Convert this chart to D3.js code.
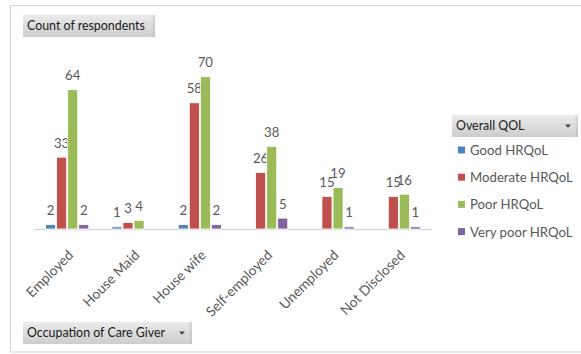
<!DOCTYPE html>
<html>
<head>
<meta charset="utf-8">
<script src="https://cdn.jsdelivr.net/npm/d3@7/dist/d3.min.js"></script>
<style>
  html, body { margin: 0; padding: 0; background: #ffffff; }
  svg { display: block; }
  text { font-family: Lato, "Open Sans", sans-serif; }
</style>
</head>
<body>
<svg id="chart" width="581" height="354"></svg>
<script>
// Respondent counts by care giver occupation and overall HRQoL level
const categories = ["Employed", "House Maid", "House wife", "Self-employed", "Unemployed", "Not Disclosed"];
const seriesNames = ["Good HRQoL", "Moderate HRQoL", "Poor HRQoL", "Very poor HRQoL"];
const goodValues     = [2, 1, 2, null, null, null];
const moderateValues = [33, 3, 58, 26, 15, 15];
const poorValues     = [64, 4, 70, 38, 19, 16];
const veryPoorValues = [2, null, 2, 5, 1, 1];
const seriesColors = ["#4f81bd", "#c0504d", "#9bbb59", "#8064a2"];

const seriesValues = [goodValues, moderateValues, poorValues, veryPoorValues];

const svg = d3.select("#chart");
const W = 581, H = 354;

// chart area frame
svg.append("rect")
  .attr("x", 10.5).attr("y", 5.5)
  .attr("width", W + 10).attr("height", 346.5)
  .attr("fill", "#ffffff")
  .attr("stroke", "#d9d9d9").attr("stroke-width", 1.2);

// field button gradient
const defs = svg.append("defs");
const grad = defs.append("linearGradient").attr("id", "btnGrad")
  .attr("x1", 0).attr("y1", 0).attr("x2", 0).attr("y2", 1);
grad.append("stop").attr("offset", "0%").attr("stop-color", "#ebebeb");
grad.append("stop").attr("offset", "100%").attr("stop-color", "#cdcdcd");
const gradR = defs.append("linearGradient").attr("id", "btnEdge")
  .attr("x1", 0).attr("y1", 0).attr("x2", 1).attr("y2", 0);
gradR.append("stop").attr("offset", "0%").attr("stop-color", "#ffffff").attr("stop-opacity", 0);
gradR.append("stop").attr("offset", "100%").attr("stop-color", "#9a9a9a").attr("stop-opacity", 0.35);

function fieldButton(x, y, w, h, label, dropdown) {
  const g = svg.append("g").attr("transform", `translate(${x},${y})`);
  g.append("rect").attr("width", w).attr("height", h).attr("fill", "url(#btnGrad)");
  g.append("rect").attr("x", w - 6).attr("width", 6).attr("height", h).attr("fill", "url(#btnEdge)");
  g.append("text")
    .attr("x", 4).attr("y", h / 2 + 4.4)
    .attr("font-size", 12.4).attr("fill", "#1a1a1a")
    .text(label);
  if (dropdown) {
    const cx = w - 10, cy = h / 2;
    g.append("path")
      .attr("d", `M${cx - 3},${cy - 1.5} L${cx + 3},${cy - 1.5} L${cx},${cy + 1.8} Z`)
      .attr("fill", "#444");
  }
}

// scales
const baseY = 229;
const y = d3.scaleLinear().domain([0, 80]).range([baseY, baseY - 80 * 2.176]);
const x0 = d3.scaleBand().domain(categories).range([34, 432]).paddingInner(0).paddingOuter(0);
const bw = x0.bandwidth();
const x1 = d3.scaleBand().domain(seriesNames).range([bw / 6, bw * 5 / 6]).padding(0);

// category axis line
svg.append("line")
  .attr("x1", 34).attr("x2", 432)
  .attr("y1", baseY + 0.5).attr("y2", baseY + 0.5)
  .attr("stroke", "#d9d9d9").attr("stroke-width", 1.3);

// bars
const groups = svg.append("g").selectAll("g")
  .data(categories)
  .join("g")
  .attr("transform", d => `translate(${x0(d)},0)`);

const cells = groups.selectAll("g.cell")
  .data((c, i) => seriesNames.map((s, j) => ({ series: s, j, value: seriesValues[j][i] }))
    .filter(d => d.value != null))
  .join("g").attr("class", "cell");

cells.append("rect")
  .attr("x", d => x1(d.series) + 0.5)
  .attr("y", d => y(d.value))
  .attr("width", x1.bandwidth() - 1)
  .attr("height", d => baseY - y(d.value))
  .attr("fill", d => seriesColors[d.j])
  .attr("stroke", "#ffffff").attr("stroke-width", 0.8);

// data labels
cells.append("text")
  .attr("x", d => x1(d.series) + x1.bandwidth() / 2)
  .attr("y", d => y(d.value) - 9.5)
  .attr("text-anchor", "middle")
  .attr("font-size", 13.2)
  .attr("fill", "#595959")
  .text(d => d.value);

// rotated category labels
svg.append("g").selectAll("text")
  .data(categories)
  .join("text")
  .attr("transform", d => `translate(${x0(d) + bw / 2},${baseY + 20}) rotate(-45)`)
  .attr("text-anchor", "end")
  .attr("dy", "0.72em")
  .attr("font-size", 13.8)
  .attr("fill", "#595959")
  .text(d => d);

// field buttons
fieldButton(23, 15, 132, 22, "Count of respondents", false);
fieldButton(452, 115, 126, 22, "Overall QOL", true);
fieldButton(23, 322, 169, 22, "Occupation of Care Giver", true);

// legend
const legend = svg.append("g").selectAll("g")
  .data(seriesNames)
  .join("g")
  .attr("transform", (d, i) => `translate(458,${150 + i * 27.2})`);
legend.append("rect")
  .attr("x", 0).attr("y", -3.5)
  .attr("width", 7).attr("height", 7)
  .attr("fill", (d, i) => seriesColors[i]);
legend.append("text")
  .attr("x", 12).attr("y", 5)
  .attr("font-size", 13.2)
  .attr("fill", "#595959")
  .text(d => d);
</script>
</body>
</html>
